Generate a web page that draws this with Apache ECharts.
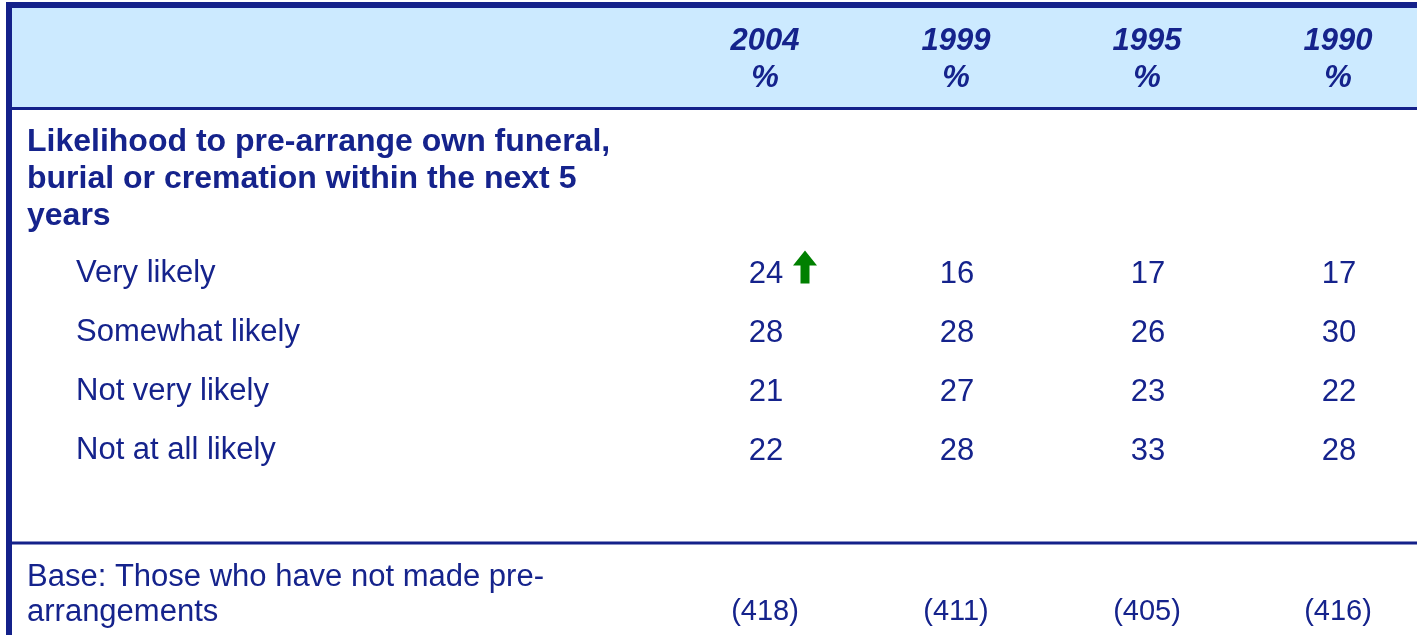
<!DOCTYPE html>
<html>
	<head>
		<meta charset="utf-8" />
		<title>Pre-arrangement likelihood</title>
		<script type="text/javascript" src="https://cdn.jsdelivr.net/npm/echarts@6/dist/echarts.min.js"></script>
	</head>
	<body style="margin:0;">
		<div id="main" style="width:1417px;height:635px;"></div>
	</body>
	<script>
	// table data
	var years = ['2004', '1999', '1995', '1990'];
	var rows = ['Very likely', 'Somewhat likely', 'Not very likely', 'Not at all likely'];
	var v2004 = [24, 28, 21, 22];
	var v1999 = [16, 28, 27, 28];
	var v1995 = [17, 26, 23, 33];
	var v1990 = [17, 30, 22, 28];
	var baseLabel = 'Base: Those who have not made pre-\narrangements';
	var baseSizes = [418, 411, 405, 416];
	var upArrows = [['2004', 'Very likely']];
	var heading = 'Likelihood to pre-arrange own funeral,\nburial or cremation within the next 5\nyears';

	var navy = '#15238c';
	var font = 'Arial, "Liberation Sans", sans-serif';

	var cols = [v2004, v1999, v1995, v1990];
	var cells = [];
	for (var c = 0; c < years.length; c++) {
		for (var r = 0; r < rows.length; r++) {
			cells.push([years[c], rows[r], cols[c][r]]);
		}
	}
	var baseCells = baseSizes.map(function (v, i) { return [years[i], baseLabel, v]; });

	var dom = document.getElementById('main');
	var myChart = echarts.init(dom, null, { renderer: 'canvas' });

	var option = {
		backgroundColor: '#ffffff',
		animation: false,
		title: {
			text: heading,
			left: 27,
			top: 124,
			padding: 0,
			textStyle: {
				color: navy,
				fontFamily: font,
				fontWeight: 'bold',
				fontSize: 32,
				lineHeight: 37
			}
		},
		graphic: [
			// header band
			{ type: 'rect', z: -10, shape: { x: 12, y: 8, width: 1405, height: 99 }, style: { fill: '#cceaff' } },
			// outer border top + left
			{ type: 'rect', shape: { x: 6, y: 2, width: 1411, height: 6 }, style: { fill: '#14218a' } },
			{ type: 'rect', shape: { x: 6, y: 2, width: 6, height: 633 }, style: { fill: '#14218a' } },
			// header bottom rule
			{ type: 'rect', shape: { x: 12, y: 107, width: 1405, height: 3 }, style: { fill: '#14218a' } },
			// base separator rule
			{ type: 'rect', shape: { x: 12, y: 541.5, width: 1405, height: 3 }, style: { fill: '#14218a' } }
		],
		grid: [
			{ left: 765, right: 79, top: 243.5, height: 236 },
			{ left: 765, right: 79, top: 564.5, height: 60 }
		],
		xAxis: [
			{
				type: 'category',
				gridIndex: 0,
				data: years,
				boundaryGap: false,
				position: 'top',
				offset: 135.5,
				axisLine: { show: false },
				axisTick: { show: false },
				splitLine: { show: false },
				axisLabel: {
					interval: 0,
					margin: 11,
					color: navy,
					fontFamily: font,
					fontWeight: 'bold',
					fontStyle: 'italic',
					fontSize: 31,
					lineHeight: 37,
					formatter: function (y) { return y + '\n%'; }
				}
			},
			{
				type: 'category',
				gridIndex: 1,
				data: years,
				boundaryGap: false,
				show: false
			}
		],
		yAxis: [
			{
				type: 'category',
				gridIndex: 0,
				data: rows,
				inverse: true,
				axisLine: { show: false },
				axisTick: { show: false },
				splitLine: { show: false },
				axisLabel: {
					interval: 0,
					align: 'left',
					margin: 689,
					color: navy,
					fontFamily: font,
					fontSize: 31
				}
			},
			{
				type: 'category',
				gridIndex: 1,
				data: [baseLabel],
				axisLine: { show: false },
				axisTick: { show: false },
				splitLine: { show: false },
				axisLabel: {
					interval: 0,
					align: 'left',
					margin: 738,
					color: navy,
					fontFamily: font,
					fontSize: 31,
					lineHeight: 35
				}
			}
		],
		series: [
			{
				type: 'scatter',
				xAxisIndex: 0,
				yAxisIndex: 0,
				data: cells,
				symbolSize: 1,
				itemStyle: { color: 'rgba(0,0,0,0)', opacity: 1 },
				label: {
					show: true,
					position: 'inside',
					offset: [1, 1],
					color: navy,
					opacity: 1,
					fontFamily: font,
					fontSize: 31,
					formatter: function (p) { return p.value[2]; }
				}
			},
			{
				type: 'scatter',
				xAxisIndex: 0,
				yAxisIndex: 0,
				data: upArrows,
				symbol: 'path://M12,0 L24,15 L16.5,15 L16.5,33 L7.5,33 L7.5,15 L0,15 Z',
				symbolSize: [24, 33],
				symbolOffset: [40, -6],
				itemStyle: { color: '#008000', opacity: 1 }
			},
			{
				type: 'scatter',
				xAxisIndex: 1,
				yAxisIndex: 1,
				data: baseCells,
				symbolSize: 1,
				itemStyle: { color: 'rgba(0,0,0,0)', opacity: 1 },
				label: {
					show: true,
					position: 'inside',
					offset: [0, 17.5],
					color: navy,
					opacity: 1,
					fontFamily: font,
					fontSize: 29,
					formatter: function (p) { return '(' + p.value[2] + ')'; }
				}
			}
		]
	};
	myChart.setOption(option);
	window.addEventListener('resize', myChart.resize);
	</script>
</html>
